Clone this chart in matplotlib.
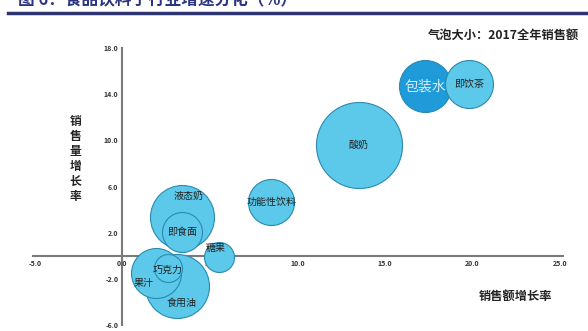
import matplotlib.pyplot as plt

plt.rcParams['font.family'] = ['Noto Sans CJK SC', 'DejaVu Sans']

# 子行业：销售额增长率 (x)、销售量增长率 (y)、2017全年销售额 (气泡大小, 相对值)
names = ['食用油', '液态奶', '酸奶', '果汁', '即食面', '功能性饮料', '包装水', '即饮茶', '巧克力', '糖果']
sales_growth = [3.1, 3.4, 13.5, 1.9, 3.4, 8.5, 17.3, 19.8, 2.6, 5.5]
volume_growth = [-2.6, 3.4, 9.6, -1.5, 2.1, 4.7, 14.7, 14.9, -1.1, -0.1]
sales_2017 = [1024, 1024, 1850, 625, 400, 530, 676, 576, 196, 225]

xticks = [-5, 0, 5, 10, 15, 20, 25]
yticks = [-6, -2, 2, 6, 10, 14, 18]

light = '#5cc8ea'
dark = '#1e9bd8'
edge = '#2a8ab0'

fig = plt.figure(figsize=(5.88, 3.31), dpi=100)
ax = fig.add_axes([0.0565, 0.0181, 0.9018, 0.8369])

# 气泡面积 -> scatter 的 s (points^2)
sizes = [(2 * (v ** 0.5) * 0.72) ** 2 for v in sales_2017]
for i, n in enumerate(names):
    ax.scatter(sales_growth[i], volume_growth[i], s=sizes[i],
               color=dark if n == '包装水' else light,
               edgecolor=edge, linewidth=0.8, zorder=3 + i)

label_off = {'糖果': (-0.2, 0.75), '巧克力': (0.0, -0.1), '果汁': (-0.7, -0.9),
             '食用油': (0.3, -1.5), '液态奶': (0.35, 1.8), '即食面': (0.0, 0.0)}
for i, n in enumerate(names):
    dx, dy = label_off.get(n, (0, 0))
    if n == '包装水':
        ax.text(sales_growth[i], volume_growth[i], n, ha='center', va='center',
                fontsize=10, color='#d8eef8', zorder=20)
    else:
        ax.text(sales_growth[i] + dx, volume_growth[i] + dy, n, ha='center', va='center',
                fontsize=7.2, color='#222222', zorder=20)

ax.set_xlim(-5.1, 25.2)
ax.set_ylim(-6, 18)
for s in ['top', 'right']:
    ax.spines[s].set_visible(False)
ax.spines['left'].set_position(('data', 0))
ax.spines['bottom'].set_position(('data', 0))
for s in ['left', 'bottom']:
    ax.spines[s].set_color('#7a7a7a')
    ax.spines[s].set_linewidth(1.5)
    ax.spines[s].set_zorder(1)

ax.set_xticks(xticks)
ax.set_xticklabels([f'{v:.1f}' for v in xticks])
ax.set_yticks(yticks)
ax.set_yticklabels([f'{v:.1f}' for v in yticks])
ax.tick_params(length=0, labelsize=5, labelcolor='#333333', pad=3)
for lb in ax.get_xticklabels() + ax.get_yticklabels():
    lb.set_fontweight('bold')

# 标题与分隔线
fig.text(0.03, 1.0, '图 6：食品饮料子行业增速分化（%）', fontsize=12, fontweight='bold',
         color='#2e3580', ha='left', va='center')
fig.add_artist(plt.Line2D([0.014, 1.0], [0.962, 0.962], color='#2e3470', linewidth=2.5))

fig.text(0.985, 0.893, '气泡大小：2017全年销售额', fontsize=8.8, fontweight='bold',
         color='#222222', ha='right', va='center')
fig.text(0.128, 0.52, '\n'.join('销售量增长率'), fontsize=8.5, fontweight='bold',
         color='#222222', ha='center', va='center', linespacing=1.2)
fig.text(0.877, 0.105, '销售额增长率', fontsize=8.8, fontweight='bold',
         color='#222222', ha='center', va='center')

fig.savefig('out.png', dpi=100)
